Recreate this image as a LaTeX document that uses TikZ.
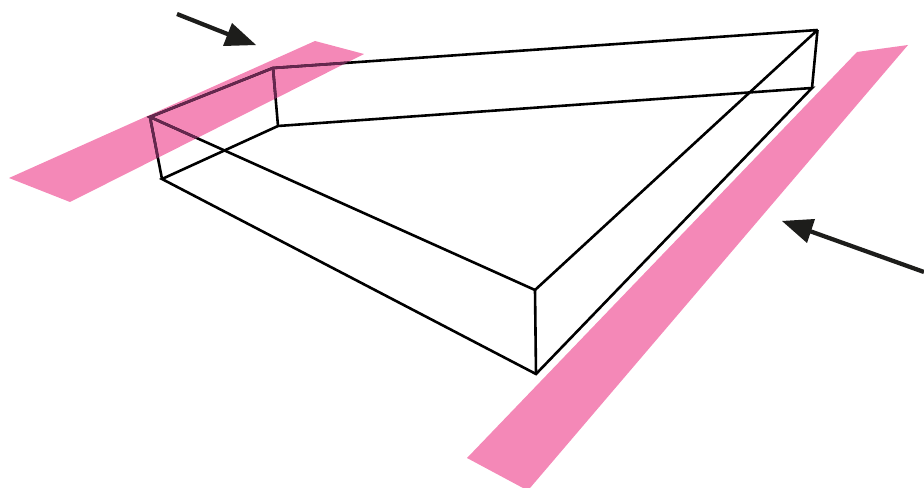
\documentclass[tikz,border=0pt]{standalone}
\definecolor{stripPink}{HTML}{F488B7}
\definecolor{overPink}{HTML}{66274F}
\definecolor{arrowInk}{HTML}{1D1D1B}
\tikzset{
  strip/.style={fill=stripPink,draw=none},
  edgeline/.style={line width=1.95pt,line join=miter,miter limit=3,line cap=butt},
  shaft/.style={line width=3.2pt,arrowInk},
  head/.style={fill=arrowInk,draw=none}
}
\begin{document}
\begin{tikzpicture}[x=0.75pt,y=-0.75pt]
\useasboundingbox (0,0) rectangle (924,488);
% box corners
\coordinate (A) at (150,117);
\coordinate (B) at (273,68);
\coordinate (C) at (817.5,30);
\coordinate (D) at (535,290);
\coordinate (E) at (162,179);
\coordinate (F) at (278,126);
\coordinate (G) at (812,88);
\coordinate (H) at (536,374);
% pink strips
\coordinate (L1) at (9,178);
\coordinate (L2) at (315,41);
\coordinate (L3) at (364,54);
\coordinate (L4) at (70,202);
\coordinate (R1) at (857,52);
\coordinate (R2) at (908,45);
\coordinate (R3) at (530,488);
\coordinate (R4) at (523,488);
\coordinate (R5) at (467,458);
\fill[strip] (L1) -- (L2) -- (L3) -- (L4) -- cycle;
\fill[strip] (R1) -- (R2) -- (R3) -- (R4) -- (R5) -- cycle;
% box
\draw[edgeline] (A) -- (B) -- (C) -- (D) -- cycle;
\draw[edgeline] (E) -- (F) -- (G) -- (H) -- cycle;
\draw[edgeline] (A) -- (E) (B) -- (F) (C) -- (G) (D) -- (H);
% box edges seen through the left strip
\begin{scope}
\clip (L1) -- (L2) -- (L3) -- (L4) -- cycle;
\draw[edgeline,overPink] (A) -- (B) -- (C) -- (D) -- cycle;
\draw[edgeline,overPink] (A) -- (E) (B) -- (F);
\end{scope}
% arrows
\coordinate (T0) at (177,14);
\coordinate (T1) at (235,37);
\coordinate (Ttip) at (256,45);
\coordinate (Ta) at (232,23);
\coordinate (Tb) at (223,46);
\draw[shaft] (T0) -- (T1);
\fill[head] (Ttip) -- (Ta) -- (Tb) -- cycle;
\coordinate (S0) at (924,272);
\coordinate (S1) at (804,229);
\coordinate (Stip) at (782,221);
\coordinate (Sa) at (815,219);
\coordinate (Sb) at (807,243);
\draw[shaft] (S0) -- (S1);
\fill[head] (Stip) -- (Sa) -- (Sb) -- cycle;
\end{tikzpicture}
\end{document}
